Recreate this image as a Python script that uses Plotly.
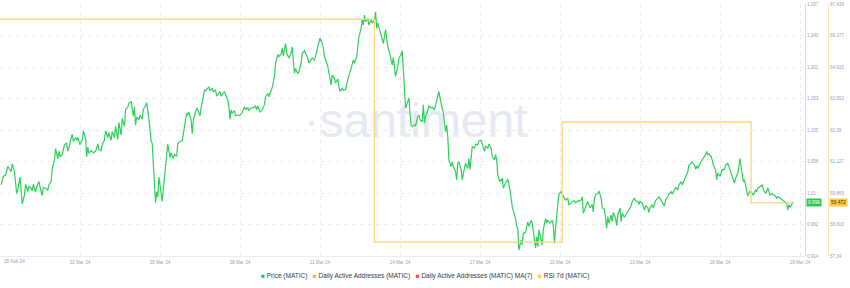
import pandas as pd
import numpy as np
import plotly.graph_objects as go

START = "2024-02-28 00:00"

# Price (MATIC): hours after START and price in USD
price_hours = [
    1, 3, 5, 7, 8, 10, 11, 13, 15, 16,
    18, 19, 20, 22, 23, 25, 26, 28, 29, 30,
    32, 33, 35, 37, 38, 39, 41, 43, 44, 46,
    47, 49, 50, 52, 53, 54, 56, 58, 60, 61,
    62, 64, 65, 66, 68, 69, 70, 72, 74, 75,
    77, 78, 79, 80, 82, 84, 86, 88, 89, 91,
    92, 94, 95, 97, 98, 100, 101, 103, 104, 106,
    107, 109, 110, 112, 113, 115, 116, 118,
    120, 121, 122, 123, 125, 126, 128, 129, 131, 132,
    133, 134, 136, 137, 138, 139, 140, 141, 142, 143,
    144, 146, 147, 149, 150, 151, 153, 154, 156, 157,
    159, 160, 162, 164, 165, 167, 168, 169, 170, 172,
    173, 174, 176, 177, 178, 180, 181, 182, 184, 185,
    187, 188, 189, 191, 192, 194, 195, 196, 198, 199,
    201, 202, 203, 205, 206, 207, 208, 209, 211, 212,
    214, 216, 218, 220, 221, 223, 224, 226, 228, 230,
    231, 232, 234, 236, 238,
    239, 241, 242, 244, 245, 247, 248, 250, 251, 253,
    254, 255, 257, 258, 260, 262, 263, 265, 266, 268,
    269, 271, 272, 274, 275, 277, 278, 280, 281, 283,
    284, 286, 287, 288, 290, 291, 292, 293, 295, 296,
    298, 299, 301, 302, 304, 305, 306, 308, 309, 311,
    312, 313, 315, 317, 318, 319, 321, 322, 323, 325,
    326, 327, 328, 329, 331, 332, 334, 335, 337, 338,
    339, 340, 342, 344, 345, 347, 348, 349, 351, 353,
    354, 356, 358, 359, 361, 362, 363, 364, 365, 367,
    368, 369, 370, 371, 373, 374, 376, 377, 378, 380,
    381, 382, 383, 385, 386, 388, 389, 391, 392, 394,
    395, 396, 398, 399, 401, 402, 403, 404, 406, 407,
    408, 410, 411, 412, 413, 415, 416, 418, 419, 421,
    422, 423, 424, 425, 427, 428, 430, 431, 433, 434,
    436, 437, 439, 440, 442, 443, 445, 446, 447, 448,
    450, 452, 453, 455, 456, 457, 459, 461, 462, 464,
    465, 466, 467, 469, 470, 471, 473, 475, 476, 478,
    479, 480, 482, 483, 484, 485, 487, 488, 489, 491,
    492, 493, 495, 497, 498, 499, 500, 501, 502, 503,
    505, 506, 508, 509, 511, 512, 514, 515, 517, 518,
    520, 521, 523, 524, 525, 527, 528, 529, 531, 533,
    534, 535, 536, 538, 539, 541, 542, 544, 545, 546,
    547, 548, 550, 551, 552, 554, 555, 556, 558, 559,
    560, 562, 563, 565, 566, 568, 569, 571, 572, 574,
    575, 576, 578, 579, 580, 581, 583, 584, 585, 587,
    588, 590, 592, 593, 595, 596, 598, 599, 601, 602,
    604, 605, 607, 608, 610, 611, 613, 614, 616, 617,
    619, 620, 622, 623, 625, 626, 627, 628, 630, 632,
    633, 635, 636, 637, 638, 640, 641, 642, 644, 645,
    646, 648, 649, 650, 652, 653, 655, 656, 658, 659,
    661, 662, 664, 665, 666, 667, 668, 669, 670, 672,
    673, 674, 675, 677, 678, 680, 681, 682, 684, 686,
    687, 689, 690, 691, 693, 695, 696, 698, 699, 700,
    702, 704, 705, 707, 708, 709, 710, 711, 713, 714,
]

price_values = [
    1.022, 1.035, 1.037, 1.050, 1.048, 1.042, 1.054, 1.042, 1.009, 1.014,
    1.034, 1.014, 0.993, 1.007, 1.023, 1.012, 1.020, 1.017, 1.013, 1.023,
    1.011, 1.019, 1.027, 1.012, 1.006, 1.018, 1.017, 1.014, 1.022, 1.027,
    1.047, 1.060, 1.077, 1.062, 1.073, 1.065, 1.068, 1.083, 1.086, 1.073,
    1.078, 1.093, 1.099, 1.088, 1.094, 1.090, 1.094, 1.083, 1.090, 1.104,
    1.093, 1.065, 1.079, 1.070, 1.074, 1.071, 1.073, 1.084, 1.076, 1.074,
    1.084, 1.090, 1.104, 1.094, 1.101, 1.090, 1.103, 1.094, 1.111, 1.091,
    1.117, 1.098, 1.123, 1.111, 1.136, 1.140, 1.146, 1.149,
    1.126, 1.140, 1.113, 1.125, 1.121, 1.128, 1.122, 1.137, 1.142, 1.147,
    1.136, 1.123, 1.089, 1.085, 1.055, 1.014, 0.995, 1.012, 1.004, 1.034,
    1.022, 0.997, 1.017, 1.052, 1.065, 1.084, 1.064, 1.071, 1.062, 1.068,
    1.066, 1.085, 1.088, 1.089, 1.100, 1.121, 1.131, 1.128, 1.133, 1.120,
    1.100, 1.121, 1.133, 1.139, 1.136, 1.127, 1.139, 1.149, 1.166, 1.165,
    1.169, 1.171, 1.165, 1.169, 1.164, 1.166, 1.157, 1.160, 1.164, 1.157,
    1.161, 1.164, 1.159, 1.152, 1.141, 1.122, 1.136, 1.131, 1.135, 1.127,
    1.128, 1.128, 1.132, 1.141, 1.136, 1.140, 1.135, 1.139, 1.139, 1.142,
    1.136, 1.142, 1.133, 1.136, 1.144,
    1.156, 1.161, 1.156, 1.166, 1.170, 1.187, 1.207, 1.220, 1.217, 1.221,
    1.230, 1.218, 1.237, 1.222, 1.215, 1.222, 1.232, 1.192, 1.199, 1.191,
    1.194, 1.207, 1.222, 1.226, 1.223, 1.215, 1.207, 1.212, 1.215, 1.212,
    1.217, 1.232, 1.238, 1.245, 1.237, 1.230, 1.217, 1.213, 1.202, 1.192,
    1.174, 1.189, 1.184, 1.177, 1.183, 1.171, 1.164, 1.169, 1.166, 1.167,
    1.177, 1.182, 1.193, 1.207, 1.212, 1.207, 1.217, 1.232, 1.247, 1.260,
    1.273, 1.265, 1.280, 1.270, 1.275, 1.265, 1.273, 1.268, 1.273, 1.285,
    1.260, 1.268, 1.255, 1.245, 1.237, 1.258, 1.240, 1.232, 1.220, 1.204,
    1.216, 1.187, 1.202, 1.215, 1.220, 1.226, 1.197, 1.156, 1.139, 1.149,
    1.154, 1.131, 1.113, 1.111, 1.113, 1.112, 1.126, 1.128, 1.121, 1.118,
    1.144, 1.116, 1.126, 1.135, 1.142, 1.139, 1.140, 1.136, 1.144, 1.160,
    1.164, 1.154, 1.140, 1.131, 1.103, 1.113, 1.095, 1.060, 1.050, 1.057,
    1.050, 1.042, 1.030, 1.055, 1.057, 1.045, 1.030, 1.045, 1.055, 1.047,
    1.062, 1.045, 1.065, 1.080, 1.078, 1.084, 1.083, 1.089, 1.090, 1.085,
    1.073, 1.081, 1.078, 1.084, 1.078, 1.065, 1.060, 1.068, 1.060, 1.037,
    1.027, 1.032, 1.017, 1.025, 1.027, 1.031, 1.014, 0.989, 0.984, 0.971,
    0.959, 0.956, 0.923, 0.938, 0.931, 0.948, 0.950, 0.966, 0.959, 0.968,
    0.964, 0.948, 0.926, 0.943, 0.928, 0.954, 0.938, 0.931, 0.954, 0.971,
    0.964, 0.968, 0.964, 0.968, 0.961, 0.933, 0.956, 0.979, 0.992, 1.008,
    1.012, 1.008, 1.002, 0.999, 1.002, 0.992, 0.994, 0.997, 0.998, 0.995,
    0.998, 0.997, 0.999, 1.004, 0.979, 0.990, 0.993, 0.997, 0.987, 0.992,
    0.981, 1.002, 1.007, 1.009, 1.013, 1.002, 0.987, 0.985, 0.968, 0.956,
    0.974, 0.964, 0.976, 0.966, 0.980, 0.971, 0.960, 0.976, 0.987, 0.966,
    0.979, 0.973, 0.976, 0.981, 0.985, 0.990, 0.997, 1.002, 0.998, 0.997,
    0.992, 0.997, 0.994, 0.989, 0.984, 0.990, 0.988, 0.980, 0.987, 0.992,
    0.987, 0.998, 1.002, 1.004, 0.999, 0.995, 0.990, 0.999, 1.004, 1.008,
    1.012, 1.008, 1.014, 1.018, 1.015, 1.022, 1.027, 1.022, 1.030, 1.035,
    1.042, 1.052, 1.055, 1.057, 1.052, 1.046, 1.051, 1.047, 1.055, 1.060,
    1.062, 1.068, 1.073, 1.068, 1.069, 1.065, 1.060, 1.052, 1.045, 1.030,
    1.040, 1.035, 1.040, 1.045, 1.046, 1.052, 1.055, 1.050, 1.042, 1.037,
    1.025, 1.032, 1.040, 1.050, 1.062, 1.050, 1.037, 1.027, 1.030, 1.012,
    1.005, 1.009, 1.012, 1.009, 1.007, 1.014, 1.012, 1.017, 1.020, 1.022,
    1.015, 1.009, 1.012, 1.018, 1.007, 1.009, 1.007, 1.005, 1.002, 1.004,
    1.002, 0.999, 0.997, 0.995, 0.994, 0.984, 0.992, 0.988, 0.995, 0.996,
]

# RSI 7d (MATIC): hours after START and value
rsi_hours = [0, 337, 506, 676, 714]
rsi_values = [66.83, 57.90, 62.71, 59.472, 59.472]

# Axis tick labels
x_tick_dates = ["2024-03-02", "2024-03-05", "2024-03-08", "2024-03-11", "2024-03-14",
                "2024-03-17", "2024-03-20", "2024-03-23", "2024-03-26", "2024-03-29"]
x_tick_labels = ["02 Mar 24", "05 Mar 24", "08 Mar 24", "11 Mar 24", "14 Mar 24",
                 "17 Mar 24", "20 Mar 24", "23 Mar 24", "26 Mar 24", "29 Mar 24"]
first_x_label = "28 Feb 24"
price_tick_labels = ["0.914", "0.962", "1.01", "1.058", "1.105", "1.153", "1.201", "1.249", "1.297"]
rsi_tick_labels = ["57.34", "58.603", "59.865", "61.127", "62.39", "63.652", "64.915", "66.177", "67.439"]

legend_items = ["Price (MATIC)", "Daily Active Addresses (MATIC)",
                "Daily Active Addresses (MATIC) MA(7)", "RSI 7d (MATIC)"]
legend_colors = ["#2bc35a", "#ffa947", "#f5504f", "#ffc93c"]

# ---------------------------------------------------------------
W, H = 850, 288
PLOT_RIGHT = 805
start = pd.Timestamp(START)
price_time = start + pd.to_timedelta(price_hours, unit="h")
rsi_time = start + pd.to_timedelta(rsi_hours, unit="h")
x_end = start + pd.to_timedelta(PLOT_RIGHT * 0.9, unit="h")

p_lo, p_hi = float(price_tick_labels[0]), float(price_tick_labels[-1])
r_lo, r_hi = float(rsi_tick_labels[0]), float(rsi_tick_labels[-1])
price_tickvals = np.linspace(p_lo, p_hi, len(price_tick_labels))
rsi_tickvals = np.linspace(r_lo, r_hi, len(rsi_tick_labels))

FONT = "Liberation Sans, Arial, sans-serif"
TICK_FONT = dict(family=FONT, size=4.6, color="#9aa2b8")
GRID = "#eceef3"

fig = go.Figure()

# watermark (behind the data lines)
fig.add_trace(go.Scatter(
    x=[start + pd.to_timedelta(374, unit="h")], y=[(p_lo + p_hi) / 2 + 0.008],
    mode="text", text=["·santiment"], textposition="middle center",
    textfont=dict(family=FONT, size=48, color="#e6e9f2"),
    hoverinfo="skip", showlegend=False, yaxis="y"))

fig.add_trace(go.Scatter(
    x=rsi_time, y=rsi_values, mode="lines", line=dict(color="#ffd47e", width=1.3, shape="hv"),
    name=legend_items[3], yaxis="y2", showlegend=False))

fig.add_trace(go.Scatter(
    x=price_time, y=price_values, mode="lines", line=dict(color="#2fcf5c", width=1.2),
    name=legend_items[0], yaxis="y", showlegend=False))

fig.update_layout(
    width=W, height=H,
    margin=dict(l=0, r=0, t=4, b=32, pad=0, autoexpand=False),
    paper_bgcolor="white", plot_bgcolor="white",
    showlegend=False,
    xaxis=dict(
        domain=[0, PLOT_RIGHT / W], range=[start, x_end], type="date",
        tickvals=x_tick_dates, ticktext=x_tick_labels, tickfont=TICK_FONT,
        showgrid=True, gridcolor=GRID, griddash="4px,4px", gridwidth=1,
        showline=True, linecolor="#e9ecf2", linewidth=1, ticks="", zeroline=False,
        ticklabelstandoff=1, automargin=False,
    ),
    yaxis=dict(
        range=[p_lo, p_hi], tickvals=price_tickvals, ticktext=price_tick_labels,
        side="right", anchor="x", tickfont=TICK_FONT, automargin=False,
        showgrid=True, gridcolor=GRID, griddash="4px,4px",
        showline=True, linecolor="#b3ebc2", linewidth=1, ticks="", zeroline=False,
    ),
    yaxis2=dict(
        range=[r_lo, r_hi], tickvals=rsi_tickvals, ticktext=rsi_tick_labels,
        overlaying="y", side="right", anchor="free", position=828 / W, tickfont=TICK_FONT,
        automargin=False,
        showgrid=False, showline=True, linecolor="#ffe6b3", linewidth=1, ticks="", zeroline=False,
    ),
)

annotations = []
# first date label (left aligned so it is not clipped)
annotations.append(dict(
    x=start, xref="x", y=0, yref="paper", yanchor="top", xanchor="left", xshift=2, yshift=-1,
    text=first_x_label, showarrow=False, font=TICK_FONT))
# last value tags
annotations.append(dict(
    x=806 / W, xref="paper", y=price_values[-1], yref="y", xanchor="left", yanchor="middle",
    text=f"{price_values[-1]:.3f}", showarrow=False, bgcolor="#26c953", borderpad=1,
    font=dict(family=FONT, size=4.8, color="white")))
annotations.append(dict(
    x=829 / W, xref="paper", y=rsi_values[-1], yref="y2", xanchor="left", yanchor="middle",
    text=f"{rsi_values[-1]:.3f}", showarrow=False, bgcolor="#ffc940", borderpad=1,
    font=dict(family=FONT, size=4.8, color="#3b3210")))
# legend
sep = "\u00a0" * 3
legend_text = sep.join(
    f'<span style="color:{c}">■</span>\u00a0{t}' for t, c in zip(legend_items, legend_colors))
annotations.append(dict(
    x=425 / W, xref="paper", y=(256 - 276) / 252, yref="paper", xanchor="center", yanchor="middle",
    text=legend_text, showarrow=False,
    font=dict(family=FONT, size=6.5, color="#353a4a")))
fig.update_layout(annotations=annotations)

fig.write_html("out.html")
